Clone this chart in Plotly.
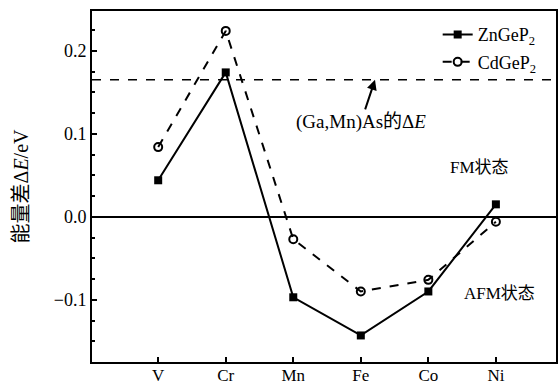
import plotly.graph_objects as go

categories = ["V", "Cr", "Mn", "Fe", "Co", "Ni"]
zn_values = [0.044, 0.174, -0.097, -0.143, -0.090, 0.015]
cd_values = [0.084, 0.224, -0.027, -0.090, -0.076, -0.006]
gamnas_value = 0.165
ytick_vals = [-0.1, 0.0, 0.1, 0.2]
ytick_text = ["\u22120.1", "0.0", "0.1", "0.2"]

serif = "Liberation Serif"
cjk = "Liberation Serif, Noto Sans CJK SC"

xs = list(range(len(categories)))

fig = go.Figure()
fig.add_trace(go.Scatter(
    x=xs, y=zn_values, mode="lines+markers", name="ZnGeP<sub>2</sub>",
    line=dict(color="black", width=2),
    marker=dict(symbol="square", size=8, color="black"),
    legendgroup="a",
))
fig.add_trace(go.Scatter(
    x=xs, y=cd_values, mode="lines+markers", name="CdGeP<sub>2</sub>",
    line=dict(color="black", width=2, dash="dash"),
    marker=dict(symbol="circle-open", size=8, color="black", line=dict(width=2)),
    legendgroup="b",
))

fig.add_shape(type="line", xref="paper", x0=0, x1=1, yref="y",
              y0=gamnas_value, y1=gamnas_value,
              line=dict(color="black", width=1.5, dash="dash"))

fig.add_annotation(x=3.21, y=gamnas_value, text="(Ga,Mn)As的Δ<i>E</i>",
                   showarrow=True, ax=-14, ay=42, arrowhead=2, arrowsize=1,
                   arrowwidth=2, arrowcolor="black",
                   font=dict(family=cjk, size=19, color="black"))
fig.add_annotation(x=4.75, y=0.06, text="FM状态", showarrow=False,
                   font=dict(family=cjk, size=17, color="black"))
fig.add_annotation(x=5.06, y=-0.092, text="AFM状态", showarrow=False,
                   font=dict(family=cjk, size=17, color="black"))

fig.update_xaxes(
    range=[-0.98, 5.89], tickvals=xs, ticktext=categories,
    showline=True, linecolor="black", linewidth=2, mirror=True,
    ticks="inside", ticklen=5, tickwidth=2, tickcolor="black",
    showgrid=False, zeroline=False, automargin=False,
    ticklabelstandoff=-3,
    tickfont=dict(family=serif, size=17, color="black"),
)
fig.update_yaxes(
    range=[-0.175, 0.248], tickvals=ytick_vals, ticktext=ytick_text,
    showline=True, linecolor="black", linewidth=2, mirror=True,
    ticks="inside", ticklen=5, tickwidth=2, tickcolor="black",
    minor=dict(dtick=0.025, tick0=0, ticks="inside", ticklen=3, tickwidth=2, tickcolor="black"),
    showgrid=False, zeroline=True, zerolinecolor="black", zerolinewidth=2,
    automargin=False,
    tickfont=dict(family=serif, size=18, color="black"),
    title=dict(text="能量差Δ<i>E</i>/eV", font=dict(family=cjk, size=20, color="black"), standoff=20),
)

fig.update_layout(
    width=558, height=386,
    margin=dict(l=92, r=2, t=11, b=24),
    plot_bgcolor="white", paper_bgcolor="white",
    showlegend=True,
    legend=dict(x=0.745, y=0.985, xanchor="left", yanchor="top",
                bgcolor="rgba(0,0,0,0)", font=dict(family=serif, size=18, color="black"),
                tracegroupgap=1, itemwidth=30),
)

fig.write_html("out.html")
